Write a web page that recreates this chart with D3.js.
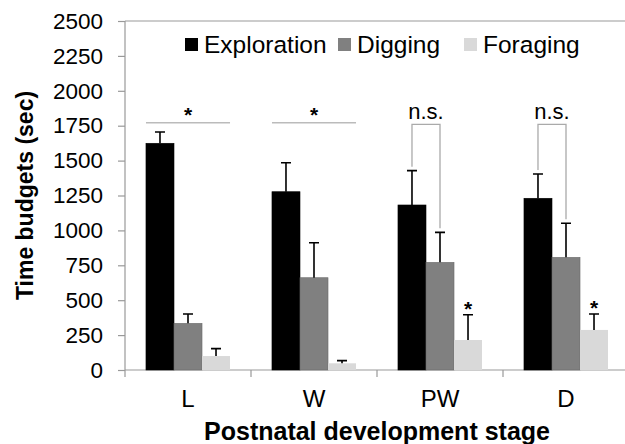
<!DOCTYPE html>
<html>
<head>
<meta charset="utf-8">
<script src="https://cdn.jsdelivr.net/npm/d3@7"></script>
<style>
  body { margin: 0; background: #fff; }
  text { font-family: "Liberation Sans", Arial, sans-serif; }
</style>
</head>
<body>
<svg width="625" height="444"></svg>
<script>
// stages and series
var stages = ["L", "W", "PW", "D"];
var series = ["Exploration", "Digging", "Foraging"];
var colors = ["#000000", "#808080", "#d9d9d9"];

// mean values per stage (sec)
var exploration = [1624, 1277, 1182, 1230];
var digging = [334, 661, 771, 807];
var foraging = [100, 48, 215, 287];
// mean + SE (top of error bar)
var explorationErr = [1705, 1485, 1428, 1404];
var diggingErr = [401, 912, 986, 1051];
var foragingErr = [153, 67, 396, 401];

var yTicks = [0, 250, 500, 750, 1000, 1250, 1500, 1750, 2000, 2250, 2500];

var svg = d3.select("svg");
var margin = {left: 125, right: -4, top: 21, bottom: 74};
var width = 625 - margin.left - margin.right,
    height = 444 - margin.top - margin.bottom;

var g = svg.append("g").attr("transform", "translate(" + margin.left + "," + margin.top + ")");

var x0 = d3.scaleBand().domain(stages).range([0, width]).paddingInner(0.333).paddingOuter(0.1665);
var x1 = d3.scaleBand().domain(series).range([0, x0.bandwidth()]);
var y = d3.scaleLinear().domain([0, 2500]).range([height, 0]);

var values = [exploration, digging, foraging];
var errs = [explorationErr, diggingErr, foragingErr];

// top frame line
g.append("line").attr("x1", 0).attr("x2", width).attr("y1", 0).attr("y2", 0)
  .attr("stroke", "#999").attr("stroke-width", 1.2);

// y axis
var yAxis = g.append("g")
  .call(d3.axisLeft(y).tickValues(yTicks).tickFormat(d3.format("d")).tickSize(7).tickPadding(15));
yAxis.select(".domain").attr("stroke", "#999").attr("stroke-width", 1.2).attr("d", "M0," + (height + 7) + "V0");
yAxis.selectAll(".tick line").attr("stroke", "#999").attr("stroke-width", 1.2);
yAxis.selectAll("text").style("font-size", "22.5px").attr("fill", "#000");

// x axis baseline and ticks between categories
g.append("line").attr("x1", 0).attr("x2", width).attr("y1", height).attr("y2", height)
  .attr("stroke", "#999").attr("stroke-width", 1.2);
var step = x0.step();
g.selectAll(".xtick").data(stages).enter().append("line")
  .attr("x1", function(d) { return x0(d) - x0.paddingOuter() * step + step; })
  .attr("x2", function(d) { return x0(d) - x0.paddingOuter() * step + step; })
  .attr("y1", height).attr("y2", height + 7)
  .attr("stroke", "#999").attr("stroke-width", 1.2);

g.selectAll(".xlabel").data(stages).enter().append("text")
  .attr("x", function(d) { return x0(d) + x0.bandwidth() / 2; })
  .attr("y", height + 37)
  .attr("text-anchor", "middle")
  .style("font-size", "24px")
  .text(function(d) { return d; });

// bars
series.forEach(function(s, si) {
  g.selectAll(".bar" + si).data(stages).enter().append("rect")
    .attr("x", function(d) { return x0(d) + x1(s); })
    .attr("y", function(d, i) { return y(values[si][i]); })
    .attr("width", x1.bandwidth())
    .attr("height", function(d, i) { return height - y(values[si][i]); })
    .attr("fill", colors[si])
    .attr("stroke", si == 0 ? "#000" : "#6a6a6a")
    .attr("stroke-width", si == 2 ? 0 : 0.6);

  // error bars
  g.selectAll(".err" + si).data(stages).enter().append("path")
    .attr("d", function(d, i) {
      var cx = x0(d) + x1(s) + x1.bandwidth() / 2;
      return "M" + cx + "," + y(values[si][i]) + "V" + y(errs[si][i]) +
        "M" + (cx - 5) + "," + y(errs[si][i]) + "H" + (cx + 5);
    })
    .attr("stroke", "#000").attr("stroke-width", 1.6).attr("fill", "none");
});

// significance: * over whole group for L and W
var sigLevel = 1771;
["L", "W"].forEach(function(st) {
  g.append("line")
    .attr("x1", x0(st)).attr("x2", x0(st) + x0.bandwidth())
    .attr("y1", y(sigLevel)).attr("y2", y(sigLevel))
    .attr("stroke", "#bbb").attr("stroke-width", 1.6);
  g.append("text")
    .attr("x", x0(st) + x0.bandwidth() / 2).attr("y", y(sigLevel) - 1)
    .attr("text-anchor", "middle").style("font-size", "21px").style("font-weight", "bold")
    .text("*");
});

// n.s. brackets for PW and D (exploration vs digging)
["PW", "D"].forEach(function(st) {
  var i = stages.indexOf(st);
  var xa = x0(st) + x1("Exploration") + x1.bandwidth() / 2;
  var xb = x0(st) + x1("Digging") + x1.bandwidth() / 2;
  var top = y(1760);
  g.append("path")
    .attr("d", "M" + xa + "," + (y(explorationErr[i]) - 4) + "V" + top + "H" + xb + "V" + (y(diggingErr[i]) - 4))
    .attr("stroke", "#aaa").attr("stroke-width", 1.3).attr("fill", "none");
  g.append("text")
    .attr("x", (xa + xb) / 2).attr("y", top - 5)
    .attr("text-anchor", "middle").style("font-size", "22px")
    .text("n.s.");
  // * above foraging
  var xf = x0(st) + x1("Foraging") + x1.bandwidth() / 2;
  g.append("text")
    .attr("x", xf).attr("y", y(foragingErr[i]) + 1)
    .attr("text-anchor", "middle").style("font-size", "21px").style("font-weight", "bold")
    .text("*");
});

// legend
var legendX = [185, 338, 464];
var legend = svg.selectAll(".legend").data(series).enter().append("g")
  .attr("transform", function(d, i) { return "translate(" + legendX[i] + ",38)"; });
legend.append("rect").attr("width", 13).attr("height", 13).attr("y", 0)
  .attr("fill", function(d, i) { return colors[i]; });
legend.append("text").attr("x", 19).attr("y", 15)
  .style("font-size", "24.5px").text(function(d) { return d; });

// axis titles
svg.append("text")
  .attr("x", margin.left + width / 2).attr("y", 440)
  .attr("text-anchor", "middle").style("font-size", "25px").style("font-weight", "bold")
  .text("Postnatal development stage");
svg.append("text")
  .attr("transform", "translate(33," + (margin.top + height / 2) + ") rotate(-90)")
  .attr("text-anchor", "middle").style("font-size", "23px").style("font-weight", "bold")
  .text("Time budgets (sec)");
</script>
</body>
</html>
